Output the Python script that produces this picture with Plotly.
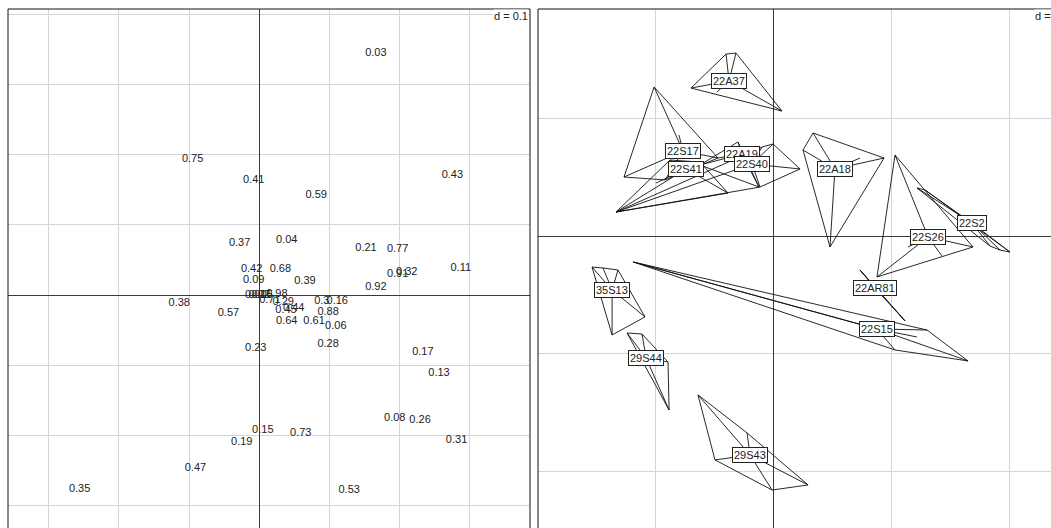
import plotly.graph_objects as go

# ---------------- Left panel: labelled scores (d = 0.1) ----------------
label_text = ["0.03", "0.75", "0.41", "0.59", "0.43", "0.37", "0.04", "0.21", "0.77",
              "0.42", "0.68", "0.09", "0.39", "0.91", "0.32", "0.11", "0.92", "0.38",
              "0.57", "0.23", "0.15", "0.19", "0.47", "0.35", "0.73", "0.53", "0.08",
              "0.26", "0.31", "0.17", "0.13", "0.28", "0.64", "0.61", "0.06", "0.88",
              "0.3", "0.16", "0.45", "0.44", "0.29", "0.01", "0.02", "0.05", "0.98",
              "0.71"]
label_x = [0.166, -0.095, -0.008, 0.081, 0.275, -0.028, 0.039, 0.152, 0.197,
           -0.011, 0.030, -0.008, 0.065, 0.197, 0.210, 0.287, 0.166, -0.114,
           -0.044, -0.005, 0.005, -0.025, -0.091, -0.256, 0.059, 0.128, 0.193,
           0.229, 0.281, 0.233, 0.256, 0.098, 0.039, 0.078, 0.109, 0.098,
           0.089, 0.111, 0.038, 0.049, 0.034, -0.005, 0.000, 0.004, 0.025,
           0.015]
label_y = [0.345, 0.193, 0.164, 0.142, 0.170, 0.074, 0.078, 0.067, 0.065,
           0.037, 0.036, 0.021, 0.020, 0.030, 0.032, 0.038, 0.011, -0.012,
           -0.026, -0.076, -0.193, -0.210, -0.247, -0.277, -0.197, -0.278, -0.176,
           -0.178, -0.207, -0.082, -0.112, -0.070, -0.038, -0.038, -0.044, -0.025,
           -0.009, -0.009, -0.022, -0.019, -0.010, -0.001, -0.001, -0.001, 0.001,
           -0.007]

# ---------------- Right panel: classes (stars + convex hulls) ----------------
group_names = ["22A37", "22S17", "22S41", "22A19", "22S40", "22A18", "22S26",
               "22S2", "22AR81", "22S15", "35S13", "29S44", "29S43"]
centroid_x = [-0.373, -0.763, -0.737, -0.263, -0.178, 0.525, 1.314,
              1.686, 0.864, 0.881, -1.364, -1.076, -0.195]
centroid_y = [1.314, 0.720, 0.568, 0.695, 0.610, 0.568, -0.008,
              0.110, -0.441, -0.788, -0.458, -1.034, -1.856]
member_x = [
    [-0.398, -0.314, -0.695, 0.076, -0.475],
    [-1.008, -1.263, -0.466, -0.797, -0.915],
    [-0.992, -0.381, -1.331, -0.873, -0.619],
    [-0.297, -0.466, -0.119, -0.619],
    [0.000, 0.229, -0.110, -1.331, -0.093],
    [0.339, 0.254, 0.941, 0.483, 0.737],
    [1.034, 0.881, 1.695, 1.432, 1.144],
    [1.220, 1.288, 2.008, 1.839, 1.924],
    [0.737, 1.119],
    [-1.186, 1.305, 1.653, 1.034, 1.220, -1.127],
    [-1.534, -1.314, -1.085, -1.364, -1.441],
    [-1.237, -1.110, -0.890, -0.881],
    [-0.636, -0.492, -0.008, 0.297, -0.220],
]
member_y = [
    [1.542, 1.551, 1.254, 1.059, 1.220],
    [1.263, 0.500, 0.661, 0.856, 0.475],
    [0.449, 0.364, 0.203, 0.644, 0.627],
    [0.797, 0.661, 0.415, 0.602],
    [0.780, 0.568, 0.415, 0.203, 0.754],
    [0.873, 0.729, 0.661, -0.093, 0.661],
    [0.686, -0.347, -0.093, -0.169, -0.093],
    [0.407, 0.390, -0.136, -0.085, -0.119],
    [-0.288, -0.720],
    [-0.220, -0.797, -1.059, -0.966, -0.856, -0.237],
    [-0.263, -0.288, -0.686, -0.839, -0.271],
    [-0.822, -0.831, -1.068, -1.475],
    [-1.347, -1.898, -2.153, -2.110, -1.669],
]


def convex_hull(pts):
    pts = sorted(set(pts))
    if len(pts) <= 2:
        return pts

    def cross(o, a, b):
        return (a[0] - o[0]) * (b[1] - o[1]) - (a[1] - o[1]) * (b[0] - o[0])

    lower, upper = [], []
    for p in pts:
        while len(lower) >= 2 and cross(lower[-2], lower[-1], p) <= 0:
            lower.pop()
        lower.append(p)
    for p in reversed(pts):
        while len(upper) >= 2 and cross(upper[-2], upper[-1], p) <= 0:
            upper.pop()
        upper.append(p)
    return lower[:-1] + upper[:-1]


FONT = "Liberation Sans, Arial, Helvetica, sans-serif"
fig = go.Figure()

# left panel labels
fig.add_trace(go.Scatter(
    x=label_x, y=label_y, mode="text", text=label_text,
    textposition="middle center",
    textfont=dict(family=FONT, size=11, color="#222222"),
    xaxis="x", yaxis="y", showlegend=False, hoverinfo="text"))

# right panel: stars and hulls
line_x, line_y = [], []
for cx, cy, xs, ys in zip(centroid_x, centroid_y, member_x, member_y):
    for px, py in zip(xs, ys):
        line_x += [cx, px, None]
        line_y += [cy, py, None]
    hull = convex_hull(list(zip(xs, ys)))
    if len(hull) >= 2:
        hx = [p[0] for p in hull] + [hull[0][0]]
        hy = [p[1] for p in hull] + [hull[0][1]]
        line_x += hx + [None]
        line_y += hy + [None]

fig.add_trace(go.Scatter(
    x=line_x, y=line_y, mode="lines",
    line=dict(color="#111111", width=0.9),
    xaxis="x2", yaxis="y2", showlegend=False, hoverinfo="skip"))

for name, cx, cy in zip(group_names, centroid_x, centroid_y):
    fig.add_annotation(
        x=cx, y=cy, xref="x2", yref="y2", text=name, showarrow=False,
        font=dict(family=FONT, size=11, color="#222222"),
        bgcolor="white", bordercolor="#222222", borderwidth=1, borderpad=1,
        xanchor="center", yanchor="middle")

W, H = 1051, 528
grid = "#d4d4dc"
axis_common = dict(showticklabels=False, ticks="", showline=False,
                   showgrid=True, gridcolor=grid, gridwidth=1,
                   zeroline=True, zerolinecolor="#3a3a3a", zerolinewidth=1,
                   tick0=0)

left_x0, left_x1 = 8 / W, 530 / W
right_x0, right_x1 = 538 / W, 1.0
top = (H - 9) / H

fig.update_layout(
    width=W, height=H,
    margin=dict(l=0, r=0, t=0, b=0, pad=0),
    paper_bgcolor="white", plot_bgcolor="white",
    showlegend=False,
    xaxis=dict(domain=[left_x0, left_x1], range=[-0.358, 0.3856], dtick=0.1,
               anchor="y", **axis_common),
    yaxis=dict(domain=[0, top], range=[-0.3319, 0.4074], dtick=0.1,
               anchor="x", **axis_common),
    xaxis2=dict(domain=[right_x0, right_x1], range=[-1.992, 2.356], dtick=1,
                anchor="y2", **axis_common),
    yaxis2=dict(domain=[0, top], range=[-2.475, 1.924], dtick=1,
                anchor="x2", **axis_common),
)

# panel frames (bottom edges fall outside the picture)
frame = dict(color="#111111", width=1)
for x0, x1, right_edge in [(left_x0, left_x1, True), (right_x0, right_x1, False)]:
    fig.add_shape(type="line", xref="paper", yref="paper", x0=x0, x1=x1,
                  y0=top, y1=top, line=frame)
    fig.add_shape(type="line", xref="paper", yref="paper", x0=x0, x1=x0,
                  y0=-0.05, y1=top, line=frame)
    if right_edge:
        fig.add_shape(type="line", xref="paper", yref="paper", x0=x1, x1=x1,
                      y0=-0.05, y1=top, line=frame)

# scale annotations
fig.add_annotation(xref="paper", yref="paper", x=529 / W, y=(H - 16) / H,
                   text="d = 0.1", showarrow=False, xanchor="right",
                   yanchor="middle", bgcolor="white", borderpad=0,
                   font=dict(family=FONT, size=11, color="#222222"))
fig.add_annotation(xref="paper", yref="paper", x=1034 / W, y=(H - 16) / H,
                   text="d = 1", showarrow=False, xanchor="left",
                   yanchor="middle", bgcolor="white", borderpad=0,
                   font=dict(family=FONT, size=11, color="#222222"))

fig.write_html("out.html",
               config={"displayModeBar": False},
               post_script="document.body.style.margin='0';"
                           "document.documentElement.style.overflow='hidden';")
